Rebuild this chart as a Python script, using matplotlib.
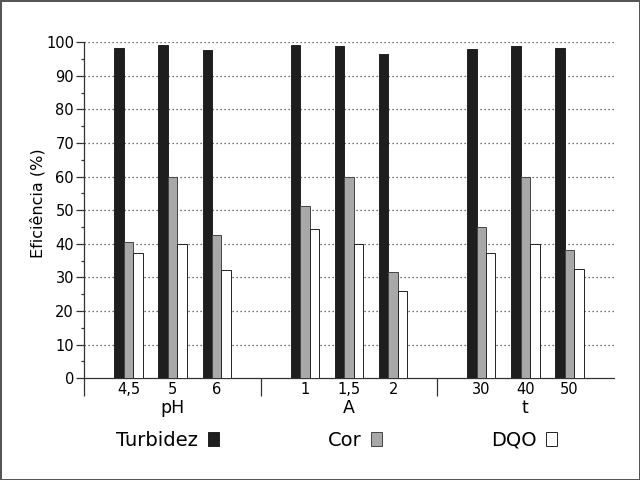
import matplotlib
matplotlib.use('Agg')
import matplotlib.pyplot as plt
from matplotlib.patches import Patch
from matplotlib.ticker import MultipleLocator

# data
groups = ['pH', 'A', 't']
tick_labels = ['4,5', '5', '6', '1', '1,5', '2', '30', '40', '50']
turbidez = [98.3, 99.1, 97.7, 99.2, 99.0, 96.4, 97.9, 99.0, 98.4]
cor = [40.5, 60.0, 42.5, 51.2, 60.0, 31.7, 44.9, 59.8, 38.1]
dqo = [37.4, 40.0, 32.2, 44.3, 40.0, 26.1, 37.2, 40.0, 32.4]

plt.rcParams['font.family'] = ['DejaVu Sans']

# category slots: 3 per group with an empty slot between groups
pos = []
for g in range(len(groups)):
    for k in range(3):
        pos.append(1 + g * 4 + k)
group_pos = [2 + g * 4 for g in range(len(groups))]
sep_pos = [0, 4, 8]

fig = plt.figure(figsize=(6.4, 4.8), dpi=100)
fig.patch.set_edgecolor('#555555')
fig.patch.set_linewidth(2)
ax = fig.add_axes([0.132, 0.2119, 0.8266, 0.70])

w = 0.215
edge = '#222222'
ax.bar([p - w for p in pos], turbidez, width=w, color='#1e1e1e', edgecolor=edge, linewidth=0.7, zorder=3)
ax.bar(pos, cor, width=w, color='#a8a8a8', edgecolor='#444444', linewidth=0.7, zorder=3)
ax.bar([p + w for p in pos], dqo, width=w, color='white', edgecolor=edge, linewidth=0.7, zorder=3)

ax.set_xlim(0, 12)
ax.set_ylim(0, 100)

# y axis
ax.yaxis.set_major_locator(MultipleLocator(10))
ax.yaxis.set_minor_locator(MultipleLocator(5))
ax.tick_params(axis='y', which='major', length=6, width=0.9, color='#333333', pad=1.5, labelsize=10.5)
ax.tick_params(axis='y', which='minor', length=2.5, width=0.9, color='#333333')
for y in range(10, 101, 10):
    ax.axhline(y, color='#444444', linewidth=0.9, linestyle=(0, (1, 2.2)), zorder=1)

# x axis: category labels, group separators as long ticks
ax.set_xticks(pos)
ax.set_xticklabels(tick_labels)
ax.set_xticks(sep_pos, minor=True)
ax.tick_params(axis='x', which='major', length=0, pad=3, labelsize=10.5)
ax.tick_params(axis='x', which='minor', length=13, width=0.9, color='#333333')

for side in ['top', 'right']:
    ax.spines[side].set_visible(False)
for side in ['left', 'bottom']:
    ax.spines[side].set_color('#333333')
    ax.spines[side].set_linewidth(0.9)

for g, x in zip(groups, group_pos):
    ax.text(x, -0.087, g, transform=ax.get_xaxis_transform(), ha='center', va='center', fontsize=12.5)

ax.set_ylabel('Eficiência (%)', fontsize=11.5)
ax.yaxis.set_label_coords(-0.074, 0.52)

handles = [Patch(facecolor='#1e1e1e', edgecolor=edge, linewidth=0.7),
           Patch(facecolor='#a8a8a8', edgecolor='#444444', linewidth=0.7),
           Patch(facecolor='white', edgecolor=edge, linewidth=0.7)]
fig.legend(handles, ['Turbidez', 'Cor', 'DQO'], loc='center', bbox_to_anchor=(0.526, 0.083),
           ncol=3, frameon=False, markerfirst=False, fontsize=14,
           handlelength=0.55, handleheight=0.7, handletextpad=0.5, columnspacing=5.6)

fig.savefig('out.png', dpi=100)
